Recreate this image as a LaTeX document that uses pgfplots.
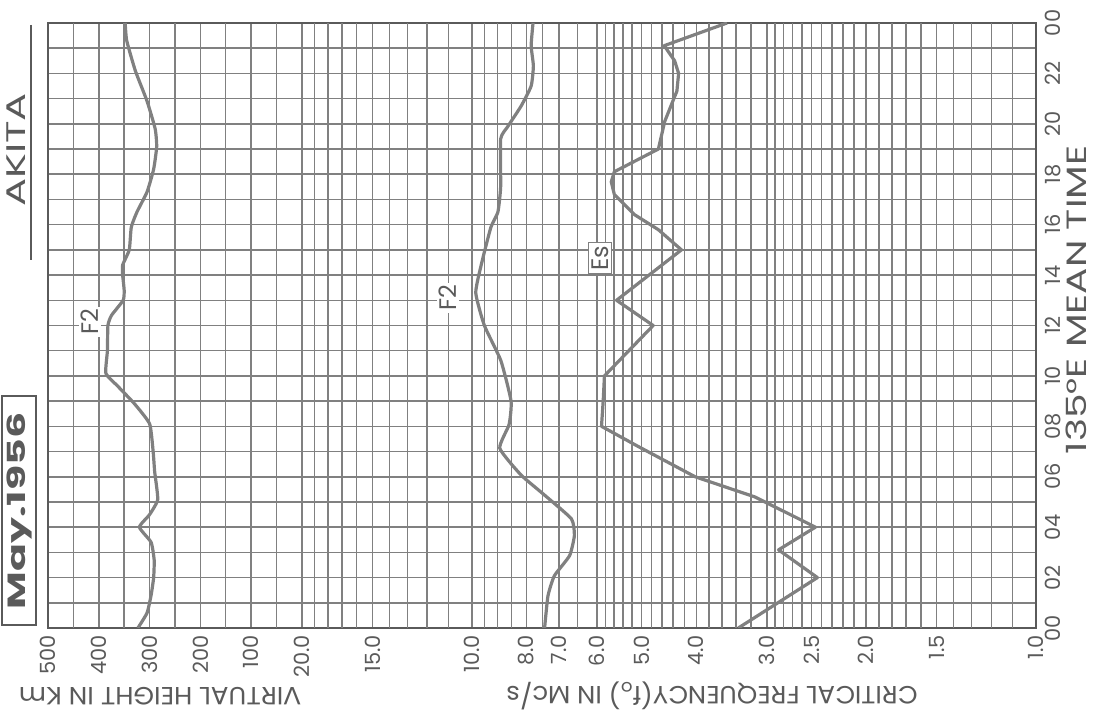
\documentclass[border=0pt]{standalone}
\usepackage{pgfplots}
\usepackage{pgfplotstable}
\pgfplotsset{compat=1.18}
\usepackage{fontspec}
\setmainfont{Poppins}
\definecolor{gridc}{RGB}{128,128,128}
\definecolor{curvec}{RGB}{128,128,128}
\definecolor{inkc}{RGB}{90,90,90}

% virtual height h'F2 (time in hours, height in km)
\pgfplotstableread[row sep=\\]{
t h \\
0 323 \\ 0.6 305 \\ 1.3 297 \\ 2.0 292 \\ 2.7 291 \\ 3.4 297 \\ 4.0 320 \\ 4.5 300 \\
5.1 284 \\ 6.2 290 \\ 7.0 293 \\ 8.1 300 \\ 8.9 330 \\ 9.6 363 \\ 10.1 386 \\ 11.0 383 \\
12.0 382 \\ 12.4 375 \\ 13.0 352 \\ 13.4 350 \\ 14.0 353 \\ 14.4 353 \\ 15.0 340 \\
15.9 336 \\ 16.5 325 \\ 17.3 305 \\ 18.2 292 \\ 19.1 286 \\ 19.8 289 \\ 20.9 305 \\
22.1 328 \\ 23.3 345 \\ 24.0 348 \\
}\hFtwo

% critical frequency foF2 (Mc/s)
\pgfplotstableread[row sep=\\]{
t f \\
0 7.43 \\ 1.27 7.33 \\ 2.07 7.14 \\ 2.87 6.71 \\ 3.67 6.58 \\ 4.33 6.66 \\ 5.27 7.43 \\
6.07 8.18 \\ 7.13 8.92 \\ 8.07 8.59 \\ 9.0 8.52 \\ 10.6 8.88 \\ 12.0 9.50 \\ 13.3 9.84 \\
14.5 9.60 \\ 15.9 9.25 \\ 16.5 8.99 \\ 17.5 8.89 \\ 19.4 8.89 \\ 19.9 8.63 \\ 20.7 8.18 \\
21.5 7.85 \\ 22.3 7.78 \\ 23.1 7.85 \\ 24 7.79 \\
}\foFtwo

% sporadic E foEs (Mc/s)
\pgfplotstableread[row sep=\\]{
t f \\
0 3.37 \\ 2.0 2.44 \\ 3.1 2.86 \\ 4.0 2.46 \\ 5.2 3.15 \\ 6.0 4.02 \\ 7.2 5.07 \\
8.0 5.89 \\ 9.0 5.85 \\ 10.0 5.82 \\ 12.0 4.77 \\ 13.0 5.54 \\ 15.0 4.25 \\ 15.8 4.67 \\
16.4 5.15 \\ 17.2 5.59 \\ 17.7 5.66 \\ 18.1 5.59 \\ 19.0 4.67 \\ 20.1 4.55 \\ 21.3 4.33 \\
22.0 4.30 \\ 22.5 4.37 \\ 23.1 4.56 \\ 24 3.53 \\
}\foEs

\begin{document}
\begin{tikzpicture}
\path[use as bounding box] (0bp,0bp) rectangle (1096bp,710bp);
\begin{axis}[
  at={(48bp,82bp)}, anchor=south west, scale only axis,
  width=988bp, height=605bp,
  xmode=log, log basis x=10, x dir=reverse,
  xmin=1, xmax=56.39, ymin=0, ymax=24,
  axis line style={draw=inkc, line width=2.6bp},
  xtick={1,1.5,2,2.5,3,4,5,6,7,8,10,15,20,24.61,30.28,37.25,45.83,56.39},
  xticklabels={1.0,1.5,2.0,2.5,3.0,4.0,5.0,6.0,7.0,8.0,10.0,15.0,20.0,100,200,300,400,500},
  minor xtick={},
  extra x ticks={1.1,1.2,1.3,1.4,1.6,1.7,1.8,1.9,2.1,2.2,2.3,2.4,2.6,2.7,2.8,2.9,
    3.2,3.4,3.6,3.8,4.2,4.4,4.6,4.8,5.2,5.4,5.6,5.8,6.5,7.5,8.5,9,9.5,
    11,12,13,14,16,17,18,19,22.18,27.30,33.58,41.32,50.84},
  extra x tick labels={},
  extra x tick style={grid=major, major grid style={draw=gridc, line width=1.5bp}},
  ytick={0,2,...,24},
  yticklabels={00,02,04,06,08,10,12,14,16,18,20,22,00},
  minor ytick={1,3,...,23},
  xmajorgrids=true, ymajorgrids=true, yminorgrids=true,
  major grid style={draw=gridc, line width=1.6bp},
  minor grid style={draw=gridc, line width=1.5bp},
  major tick length=0pt, minor tick length=0pt,
  /pgf/number format/assume math mode=true,
  xticklabel style={rotate=90, anchor=east, text=inkc, font=\fontsize{21}{21}\selectfont, inner sep=7bp},
  yticklabel pos=right,
  yticklabel style={rotate=90, anchor=north, text=inkc, font=\fontsize{21}{21}\selectfont, inner sep=9bp},
]
\addplot[curvec, line width=3.2bp, smooth, tension=0.3] table[x expr={20*pow(10,\thisrow{h}*0.0009004)}, y=t] {\hFtwo};
\addplot[curvec, line width=3.2bp, smooth, tension=0.3] table[x=f, y=t] {\foFtwo};
\addplot[curvec, line width=3.2bp, line join=round] table[x=f, y=t] {\foEs};
\end{axis}

\begin{scope}[x=1bp,y=1bp]
% curve labels
\node[rotate=90, fill=white, inner sep=2bp, text=inkc, font=\fontsize{24}{24}\selectfont] at (90,388) {F2};
\node[rotate=90, fill=white, inner sep=2bp, text=inkc, font=\fontsize{24}{24}\selectfont] at (448,412) {F2};
\node[rotate=90, fill=white, draw=gridc, line width=1bp, inner sep=3bp, text=inkc, font=\fontsize{24}{24}\selectfont] at (600,452) {Es};

% titles
\node[rotate=90, text=inkc, font=\fontsize{27}{27}\selectfont] at (16,560) {\scalebox{1.55}[1]{AKITA}};
\draw[inkc, line width=1.8bp] (31,685) -- (31,450);
\draw[inkc, line width=2.2bp] (2,85) rectangle (36,314);
\node[rotate=90, text=inkc, font=\bfseries\fontsize{25}{25}\selectfont] at (19,199) {\scalebox{1.65}[1]{May.1956}};

% axis titles
\node[rotate=180, text=inkc, font=\fontsize{25}{25}\selectfont] at (160,14) {\scalebox{1.06}[1]{VIRTUAL HEIGHT IN Km}};
\node[rotate=180, text=inkc, font=\fontsize{25}{25}\selectfont] at (712,14) {\scalebox{1.04}[1]{CRITICAL FREQUENCY(f\textsubscript{o}) IN Mc/s}};
\node[rotate=90, text=inkc, font=\fontsize{28}{28}\selectfont] at (1076,410) {\scalebox{1.4}[1]{135°E MEAN TIME}};
\end{scope}
\end{tikzpicture}
\end{document}
